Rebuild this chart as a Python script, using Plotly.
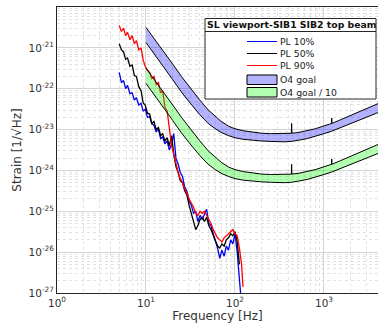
import plotly.graph_objects as go

# ---------------- data ----------------
freq = [5.0, 5.3, 5.6, 5.9, 6.2, 6.6, 7.0, 7.4, 7.8, 8.3, 8.8, 9.3, 9.8, 10.4, 11.0, 11.6,
        12.3, 13.0, 13.8, 14.6, 15.4, 16.3, 17.3, 18.3, 19.4, 20.5, 21.7, 23.0, 24.3, 25.7,
        27.2, 28.8, 30.5, 32.3, 34.2, 36.2, 38.3, 40.5, 42.9, 45.4, 48.0, 50.8, 53.8, 56.9,
        60.2, 63.7, 67.4, 71.3, 75.5, 79.9, 84.5, 89.4, 94.6, 100.1, 105.9, 112.1, 118.6, 123.0]

# log10 of strain
pl10_log = [-21.60, -21.85, -21.80, -22.00, -21.92, -22.12, -22.10, -22.28, -22.22, -22.40, -22.36,
            -22.55, -22.50, -22.70, -22.68, -22.85, -22.90, -23.05, -23.00, -23.22, -23.18, -23.35,
            -23.28, -23.50, -23.35, -23.10, -23.70, -23.85, -24.05, -24.15, -24.40, -24.50, -24.75,
            -24.85, -25.05, -25.00, -25.25, -25.10, -25.20, -25.05, -24.95, -25.30, -25.35, -25.55,
            -25.70, -25.90, -26.15, -25.95, -26.10, -25.85, -25.95, -25.70, -25.80, -25.55, -26.00,
            -26.55, -27.30, None]

pl50_log = [-20.90, -21.05, -21.10, -21.28, -21.25, -21.45, -21.42, -21.68, -21.70, -21.95, -22.05,
            -22.35, -22.40, -22.60, -22.62, -22.85, -22.80, -23.00, -22.95, -23.15, -23.10, -23.28,
            -23.20, -23.40, -23.15, -23.60, -23.90, -24.05, -24.25, -24.30, -24.50, -24.60, -24.85,
            -25.05, -25.25, -25.45, -25.35, -25.20, -25.15, -25.25, -25.15, -25.35, -25.45, -25.60,
            -25.70, -25.85, -25.90, -25.80, -25.85, -25.70, -25.65, -25.55, -25.60, -25.50, -25.75,
            -26.30, None, None]

pl90_log = [-20.45, -20.60, -20.52, -20.70, -20.62, -20.80, -20.70, -20.90, -20.82, -21.05, -21.00,
            -21.30, -21.45, -21.55, -21.60, -21.75, -21.70, -21.90, -21.85, -22.10, -22.05, -22.45,
            -22.55, -23.00, -23.40, -23.60, -23.85, -24.05, -24.20, -24.30, -24.45, -24.55, -24.70,
            -24.80, -24.90, -25.05, -25.10, -25.00, -25.05, -25.00, -25.10, -25.20, -25.30, -25.45,
            -25.55, -25.65, -25.70, -25.75, -25.65, -25.60, -25.55, -25.50, -25.45, -25.55, -25.60,
            -25.90, -26.30, -26.85]

goal_freq = [10, 12, 15, 20, 25, 30, 40, 50, 60, 70, 85, 100, 125, 150, 200, 250, 300, 360,
             430, 433, 436, 520, 650, 800, 1000, 1218, 1222, 1226, 1500, 2000, 2500, 3000, 3600, 4100]
goal_upper_log = [-20.50, -20.73, -21.02, -21.40, -21.70, -21.93, -22.27, -22.52, -22.68, -22.80,
                  -22.92, -22.98, -23.03, -23.06, -23.09, -23.10, -23.10, -23.10, -23.09, -22.85,
                  -23.09, -23.07, -23.03, -22.98, -22.91, -22.85, -22.72, -22.85, -22.77, -22.65,
                  -22.55, -22.48, -22.41, -22.36]
goal_lower_log = [-20.87, -21.10, -21.40, -21.78, -22.08, -22.30, -22.63, -22.85, -22.98, -23.07,
                  -23.15, -23.20, -23.24, -23.26, -23.28, -23.29, -23.30, -23.30, -23.29, -23.29,
                  -23.29, -23.26, -23.22, -23.17, -23.10, -23.04, -23.04, -23.04, -22.96, -22.85,
                  -22.76, -22.69, -22.63, -22.58]
goal_scale = 10  # "O4 goal / 10"

x_tickvals = [1, 10, 100, 1000]
x_ticktext = ["10<sup>0</sup>", "10<sup>1</sup>", "10<sup>2</sup>", "10<sup>3</sup>"]
y_tickvals = [1e-27, 1e-26, 1e-25, 1e-24, 1e-23, 1e-22, 1e-21]
y_ticktext = ["10<sup>-27</sup>", "10<sup>-26</sup>", "10<sup>-25</sup>", "10<sup>-24</sup>",
              "10<sup>-23</sup>", "10<sup>-22</sup>", "10<sup>-21</sup>"]

series_names = ["PL 10%", "PL 50%", "PL 90%"]
band_names = ["O4 goal", "O4 goal / 10"]
legend_title = "SL viewport-SIB1 SIB2 top beam"


def pw(v):
    return [None if x is None else 10 ** x for x in v]


# ---------------- style ----------------
W, H = 378, 332
L, R, T, B = 57, 0, 7, 39
line_colors = ["#0000ee", "#000000", "#ff0000"]
band_fills = ["rgba(0,0,255,0.3)", "rgba(0,255,0,0.3)"]
FONT = "DejaVu Sans"
TXT = "#333333"

fig = go.Figure()
for name, vals, col in zip(series_names, [pl10_log, pl50_log, pl90_log], line_colors):
    fig.add_trace(go.Scatter(x=freq, y=pw(vals), mode="lines", name=name,
                             line=dict(color=col, width=1.3), showlegend=False))

up = pw(goal_upper_log)
lo = pw(goal_lower_log)
for name, fillc, div in zip(band_names, band_fills, [1, goal_scale]):
    xs = goal_freq + goal_freq[::-1]
    ys = [v / div for v in up] + [v / div for v in lo[::-1]]
    fig.add_trace(go.Scatter(x=xs, y=ys, mode="lines", fill="toself", fillcolor=fillc,
                             line=dict(color="#000000", width=1), name=name, showlegend=False))

pw_w = W - L - R
ph = H - T - B


def px(x):
    return (x - L) / pw_w


def py(y):
    return (H - B - y) / ph


shapes = []
ann = []
# manual legend
shapes.append(dict(type="rect", xref="paper", yref="paper", x0=px(205), x1=px(376), y0=py(99), y1=py(18.5),
                   fillcolor="white", line=dict(color="#262626", width=1), layer="above"))
shapes.append(dict(type="line", xref="paper", yref="paper", x0=px(205), x1=px(376), y0=py(31.5), y1=py(31.5),
                   line=dict(color="#262626", width=1), layer="above"))
ann.append(dict(xref="paper", yref="paper", x=px(291), y=py(25), text="<b>" + legend_title + "</b>",
                showarrow=False, xanchor="center", yanchor="middle",
                font=dict(family=FONT, size=9.3, color="#111111")))
rows = [41.5, 53.5, 65.5]
for name, col, yy in zip(series_names, line_colors, rows):
    shapes.append(dict(type="line", xref="paper", yref="paper", x0=px(247), x1=px(277), y0=py(yy), y1=py(yy),
                       line=dict(color=col, width=1), layer="above"))
    ann.append(dict(xref="paper", yref="paper", x=px(278), y=py(yy), text=name, showarrow=False,
                    xanchor="left", yanchor="middle", font=dict(family=FONT, size=9.3, color="#222222")))
for name, fillc, (y0, y1) in zip(band_names, band_fills, [(75, 84.5), (87.5, 97)]):
    shapes.append(dict(type="rect", xref="paper", yref="paper", x0=px(247), x1=px(277), y0=py(y1), y1=py(y0),
                       fillcolor=fillc, line=dict(color="#000000", width=1), layer="above"))
    ann.append(dict(xref="paper", yref="paper", x=px(278), y=py((y0 + y1) / 2), text=name, showarrow=False,
                    xanchor="left", yanchor="middle", font=dict(family=FONT, size=9.3, color="#222222")))

fig.update_layout(
    width=W, height=H, margin=dict(l=L, r=R, t=T, b=B, pad=0),
    paper_bgcolor="white", plot_bgcolor="white",
    font=dict(family=FONT, color=TXT),
    showlegend=False, shapes=shapes, annotations=ann,
    xaxis=dict(type="log", range=[0, 3.607], tickmode="array", tickvals=x_tickvals, ticktext=x_ticktext,
               showline=True, mirror=True, linecolor="#262626", linewidth=1,
               showgrid=True, gridcolor="#d4d4d4", gridwidth=1, ticks="",
               minor=dict(showgrid=True, dtick="D1", gridcolor="#e2e2e2", griddash="dot", gridwidth=1),
               tickfont=dict(family=FONT, size=10.5, color=TXT), zeroline=False,
               title=dict(text="Frequency [Hz]", font=dict(family=FONT, size=12, color=TXT), standoff=4)),
    yaxis=dict(type="log", range=[-27, -20], tickmode="array", tickvals=y_tickvals, ticktext=y_ticktext,
               showline=True, mirror=False, linecolor="#262626", linewidth=1,
               showgrid=True, gridcolor="#d4d4d4", gridwidth=1, ticks="",
               minor=dict(showgrid=True, dtick="D1", gridcolor="#e2e2e2", griddash="dot", gridwidth=1),
               tickfont=dict(family=FONT, size=10.5, color=TXT), zeroline=False,
               title=dict(text="Strain [1/√Hz]", font=dict(family=FONT, size=12, color=TXT), standoff=4)),
)

fig.write_html("out.html")
